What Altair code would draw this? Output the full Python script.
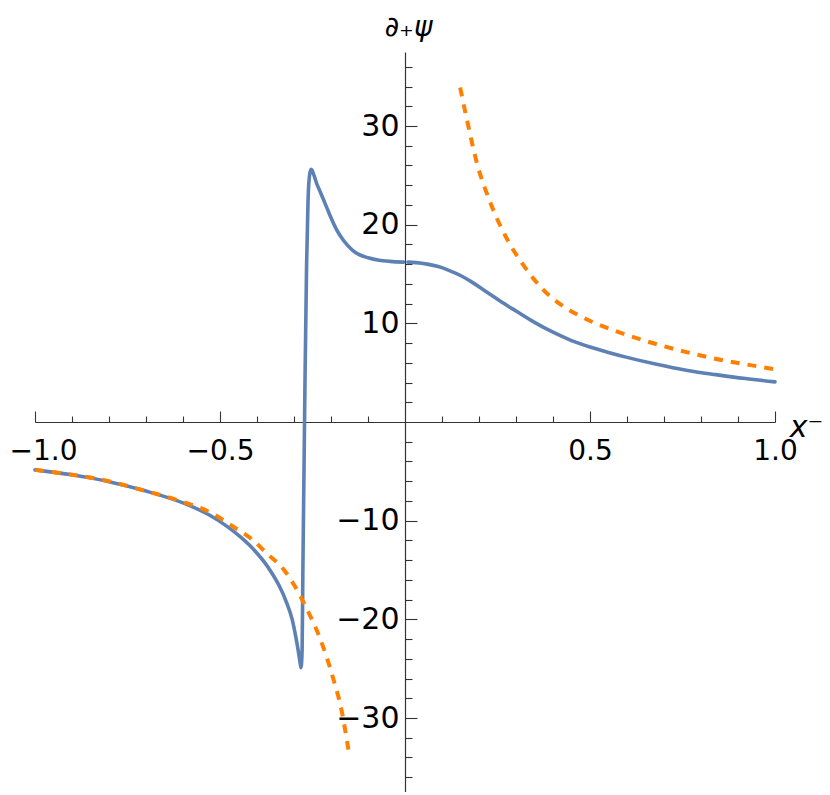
import altair as alt
import pandas as pd

# ---- data ----
blue_left_x = [-1.0, -0.9, -0.8, -0.7, -0.6, -0.53, -0.48, -0.44, -0.42, -0.40, -0.38, -0.36,
               -0.34, -0.32, -0.305, -0.295, -0.288, -0.283, -0.281, -0.278, -0.276, -0.273,
               -0.270, -0.266, -0.262, -0.258, -0.254, -0.251, -0.248, -0.244, -0.239, -0.23,
               -0.221, -0.21, -0.20, -0.185, -0.17, -0.155, -0.14, -0.12, -0.10, -0.07, -0.04,
               -0.004]
blue_left_y = [-4.85, -5.35, -6.05, -7.0, -8.2, -9.4, -10.6, -11.8, -12.5, -13.3, -14.2, -15.3,
               -16.6, -18.3, -20.0, -21.8, -23.3, -24.5, -24.9, -23.0, -15.0, -5.0,
               5.0, 15.9, 22.5, 25.0, 25.6, 25.5, 25.2, 24.8, 24.2, 23.4,
               22.6, 21.6, 20.7, 19.5, 18.6, 17.9, 17.35, 16.9, 16.65, 16.4, 16.28,
               16.2]

blue_right_x = [0.008, 0.03, 0.06, 0.09, 0.12, 0.15, 0.18, 0.21, 0.24, 0.27, 0.30, 0.35,
                0.40, 0.45, 0.50, 0.55, 0.60, 0.68, 0.76, 0.84, 0.92, 1.0]
blue_right_y = [16.2, 16.15, 16.0, 15.75, 15.35, 14.85, 14.2, 13.45, 12.7, 11.95, 11.25, 10.1,
                9.1, 8.25, 7.6, 7.05, 6.55, 5.85, 5.25, 4.8, 4.4, 4.07]

orange_left_x = [-1.0, -0.9, -0.824, -0.7, -0.608, -0.53, -0.464, -0.41, -0.374, -0.329, -0.30,
                 -0.266, -0.230, -0.194, -0.171, -0.153]
orange_left_y = [-4.85, -5.35, -5.8, -7.0, -8.0, -9.1, -10.6, -12.0, -13.3, -14.9, -16.5,
                 -18.9, -21.9, -26.0, -29.3, -33.2]

orange_right_x = [0.149, 0.167, 0.194, 0.230, 0.275, 0.320, 0.374, 0.437, 0.473, 0.518, 0.563,
                  0.63, 0.698, 0.77, 0.833, 0.92, 1.0]
orange_right_y = [33.9, 30.7, 26.3, 22.3, 18.6, 15.9, 13.4, 11.5, 10.75, 9.95, 9.3,
                  8.45, 7.7, 7.0, 6.45, 5.85, 5.35]

x_tick_values = [-1.0, -0.9, -0.8, -0.7, -0.6, -0.5, -0.4, -0.3, -0.2, -0.1,
                 0.1, 0.2, 0.3, 0.4, 0.5, 0.6, 0.7, 0.8, 0.9, 1.0]
x_label_values = [-1.0, -0.5, 0.5, 1.0]
y_tick_values = [v for v in range(-36, 37, 2) if v != 0]
y_label_values = [-30, -20, -10, 10, 20, 30]

# ---- tables ----
blue_df = pd.concat([
    pd.DataFrame({"x": blue_left_x, "y": blue_left_y, "seg": "L"}),
    pd.DataFrame({"x": blue_right_x, "y": blue_right_y, "seg": "R"}),
])
orange_df = pd.concat([
    pd.DataFrame({"x": orange_left_x, "y": orange_left_y, "seg": "L"}),
    pd.DataFrame({"x": orange_right_x, "y": orange_right_y, "seg": "R"}),
])

W = 740
H = 740
FONT = "DejaVu Sans"
AX = "#333333"

xscale = alt.Scale(domain=[-1, 1], nice=False, zero=False)
yscale = alt.Scale(domain=[-37.5, 37.5], nice=False, zero=False)

x_tick_axis = alt.Axis(
    orient="top", offset=-H / 2, values=x_tick_values, labels=False, title=None,
    domain=True, domainColor=AX, domainWidth=1.2, ticks=True, tickColor=AX, tickWidth=1.1,
    tickSize={"condition": {"test": "abs(datum.value*2 - round(datum.value*2)) < 0.000001", "value": 11}, "value": 6},
    grid=False,
)
x_label_axis = alt.Axis(
    orient="bottom", offset=-H / 2, values=x_label_values, format=".1f",
    labelFont=FONT, labelFontSize=28, labelColor="black", labelPadding=15,
    labelOffset={"condition": {"test": "datum.value == -1", "value": 8}, "value": 0},
    labelFlush=False, labelOverlap=False, labelBound=False,
    domain=False, ticks=False, tickSize=0, grid=False,
    title="x⁻", titleFont=FONT, titleFontSize=30, titleFontStyle="italic", titleFontWeight="normal",
    titleColor="black", titleX=W + 31, titleY=5, titleAlign="center", titleBaseline="middle",
)
y_tick_axis = alt.Axis(
    orient="right", offset=-W / 2, values=y_tick_values, labels=False, title=None,
    domain=True, domainColor=AX, domainWidth=1.2, ticks=True, tickColor=AX, tickWidth=1.1,
    tickSize={"condition": {"test": "datum.value % 10 == 0", "value": 12}, "value": 7},
    grid=False,
)
y_label_axis = alt.Axis(
    orient="left", offset=-W / 2, values=y_label_values, format="d",
    labelFont=FONT, labelFontSize=30, labelColor="black", labelPadding=6,
    labelOverlap=False, labelBound=False, labelFlush=False,
    domain=False, ticks=False, tickSize=0, grid=False,
    title="∂₊ψ", titleFont=FONT, titleFontSize=28, titleFontStyle="italic", titleFontWeight="normal",
    titleColor="black", titleAngle=0, titleX=3, titleY=-25, titleAlign="center", titleBaseline="middle",
)

blue = alt.Chart(blue_df).mark_line(
    color="#5E81B5", strokeWidth=3.6, interpolate="monotone", strokeCap="round", strokeJoin="round"
).encode(
    x=alt.X("x:Q", scale=xscale, axis=x_tick_axis),
    y=alt.Y("y:Q", scale=yscale, axis=y_tick_axis),
    detail="seg:N",
)

orange = alt.Chart(orange_df).mark_line(
    color="#FF8000", strokeWidth=4, strokeDash=[9, 8], interpolate="monotone"
).encode(
    x=alt.X("x:Q", scale=xscale, axis=x_label_axis),
    y=alt.Y("y:Q", scale=yscale, axis=y_label_axis),
    detail="seg:N",
)

chart = alt.layer(blue, orange).resolve_axis(
    x="independent", y="independent"
).properties(
    width=W, height=H,
    padding={"left": 27, "top": 44, "right": 47, "bottom": 0},
    autosize=alt.AutoSizeParams(type="none"),
).configure_view(stroke=None)

chart.save("out.html", embed_options={"renderer": "svg", "actions": False})
